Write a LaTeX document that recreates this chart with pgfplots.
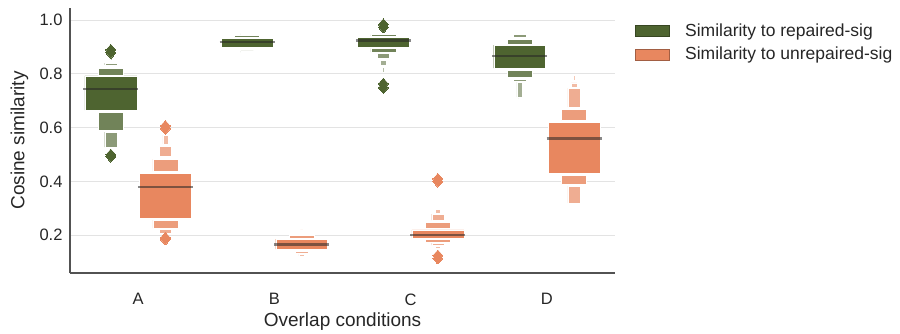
\documentclass[border=0pt]{standalone}
\usepackage{pgfplots}
\pgfplotsset{compat=1.18}
\usepackage{fontspec}
\setmainfont{Liberation Sans}
\definecolor{gC}{RGB}{78,100,48}
\definecolor{oC}{RGB}{232,135,95}
\colorlet{g1}{gC}\colorlet{g2}{gC!80!white}\colorlet{g3}{gC!65!white}\colorlet{g4}{gC!52!white}\colorlet{g5}{gC!42!white}
\colorlet{o1}{oC}\colorlet{o2}{oC!82!white}\colorlet{o3}{oC!68!white}\colorlet{o4}{oC!56!white}\colorlet{o5}{oC!45!white}
% box: center, half width, low, high, colour
\newcommand\bx[5]{%
  \pgfmathsetmacro\xa{#1-#2}\pgfmathsetmacro\xb{#1+#2}%
  \edef\tmp{\noexpand\addplot[fill=#5,draw=white,line width=0.4pt,forget plot] coordinates {(\xa,#3) (\xb,#3) (\xb,#4) (\xa,#4) (\xa,#3)};}\tmp}
% median: center, value
\newcommand\md[2]{%
  \pgfmathsetmacro\xa{#1-0.202}\pgfmathsetmacro\xb{#1+0.202}%
  \edef\tmp{\noexpand\addplot[draw=black!85,opacity=0.55,line width=2.6pt,forget plot] coordinates {(\xa,#2) (\xb,#2)};}\tmp}
\begin{document}
\begin{tikzpicture}
\useasboundingbox (0,0) rectangle (900pt,333pt);
\begin{axis}[
  at={(70pt,60pt)}, anchor=south west,
  width=545pt, height=265pt, scale only axis,
  xmin=-0.5, xmax=3.5, ymin=0.059, ymax=1.045,
  xtick={0,1,2,3}, xticklabels={A,B,C,D},
  ytick={0.2,0.4,0.6,0.8,1.0},
  yticklabel style={xshift=-4pt, /pgf/number format/.cd,fixed,fixed zerofill,precision=1,assume math mode=true},
  xticklabel style={yshift=-17pt},
  ticklabel style={font=\fontsize{16.5}{18}\selectfont, text=black!85},
  major tick length=0pt,
  axis x line*=bottom, axis y line*=left,
  x axis line style={-}, y axis line style={-},
  axis line style={draw=black!68, line width=2pt},
  ymajorgrids, grid style={draw=black!11, line width=0.8pt},
  xlabel={Overlap conditions}, ylabel={Cosine similarity},
  label style={font=\fontsize{19}{22}\selectfont, text=black!85},
  xlabel style={at={(axis description cs:0.5,-0.185)}, anchor=center},
  ylabel style={at={(axis description cs:-0.0927,0.5)}, anchor=center},
  legend style={at={(1.03,0.955)}, anchor=north west, draw=none, fill=none,
    font=\fontsize{17.5}{20}\selectfont, row sep=5pt, column sep=14pt, text=black!85},
  legend cell align=left,
  legend image code/.code={\draw[#1] (0pt,-5.5pt) rectangle (34pt,5.5pt);},
]
\addlegendimage{fill=gC, draw=gC!70!black, line width=0.6pt}
\addlegendentry{Similarity to repaired-sig}
\addlegendimage{fill=oC, draw=oC!70!black, line width=0.6pt}
\addlegendentry{Similarity to unrepaired-sig}
% A green
\bx{-0.2}{0.19}{0.665}{0.792}{g1}
\bx{-0.2}{0.092}{0.795}{0.82}{g2}
\bx{-0.2}{0.092}{0.59}{0.658}{g2}
\bx{-0.2}{0.045}{0.833}{0.84}{g3}
\bx{-0.2}{0.045}{0.527}{0.583}{g3}
\bx{-0.2}{0.008}{0.513}{0.519}{g5}
\bx{-0.2}{0.008}{0.852}{0.858}{g5}
\md{-0.2}{0.743}
% A orange
\bx{0.2}{0.19}{0.263}{0.43}{o1}
\bx{0.2}{0.092}{0.438}{0.483}{o2}
\bx{0.2}{0.092}{0.226}{0.256}{o2}
\bx{0.2}{0.045}{0.494}{0.531}{o3}
\bx{0.2}{0.045}{0.207}{0.222}{o3}
\bx{0.2}{0.018}{0.539}{0.572}{o4}
\bx{0.2}{0.006}{0.578}{0.585}{o5}
\md{0.2}{0.379}
% B green
\bx{0.8}{0.19}{0.90}{0.933}{g1}
\bx{0.8}{0.092}{0.937}{0.943}{g2}
\bx{0.8}{0.092}{0.89}{0.896}{g2}
\bx{0.8}{0.045}{0.946}{0.95}{g3}
\bx{0.8}{0.045}{0.88}{0.885}{g3}
\bx{0.8}{0.02}{0.873}{0.877}{g4}
\md{0.8}{0.919}
% B orange
\bx{1.2}{0.19}{0.148}{0.185}{o1}
\bx{1.2}{0.092}{0.19}{0.198}{o2}
\bx{1.2}{0.045}{0.133}{0.14}{o3}
\bx{1.2}{0.02}{0.122}{0.129}{o4}
\bx{1.2}{0.01}{0.215}{0.219}{o5}
\md{1.2}{0.165}
% C green
\bx{1.8}{0.19}{0.90}{0.937}{g1}
\bx{1.8}{0.092}{0.941}{0.946}{g2}
\bx{1.8}{0.092}{0.881}{0.895}{g2}
\bx{1.8}{0.045}{0.859}{0.877}{g3}
\bx{1.8}{0.02}{0.833}{0.851}{g4}
\bx{1.8}{0.006}{0.807}{0.825}{g5}
\bx{1.8}{0.006}{0.95}{0.954}{g5}
\md{1.8}{0.923}
% C orange
\bx{2.2}{0.19}{0.189}{0.219}{o1}
\bx{2.2}{0.092}{0.226}{0.248}{o2}
\bx{2.2}{0.092}{0.174}{0.185}{o2}
\bx{2.2}{0.045}{0.256}{0.278}{o3}
\bx{2.2}{0.045}{0.163}{0.17}{o3}
\bx{2.2}{0.02}{0.282}{0.297}{o4}
\bx{2.2}{0.02}{0.152}{0.158}{o4}
\bx{2.2}{0.006}{0.30}{0.31}{o5}
\md{2.2}{0.2}
% D green
\bx{2.8}{0.19}{0.821}{0.907}{g1}
\bx{2.8}{0.092}{0.911}{0.929}{g2}
\bx{2.8}{0.092}{0.788}{0.814}{g2}
\bx{2.8}{0.045}{0.937}{0.948}{g3}
\bx{2.8}{0.045}{0.773}{0.78}{g3}
\bx{2.8}{0.02}{0.713}{0.769}{g4}
\bx{2.8}{0.006}{0.706}{0.71}{g5}
\md{2.8}{0.866}
% D orange
\bx{3.2}{0.19}{0.431}{0.62}{o1}
\bx{3.2}{0.092}{0.628}{0.669}{o2}
\bx{3.2}{0.092}{0.39}{0.423}{o2}
\bx{3.2}{0.045}{0.676}{0.747}{o3}
\bx{3.2}{0.045}{0.319}{0.382}{o3}
\bx{3.2}{0.02}{0.75}{0.766}{o4}
\bx{3.2}{0.006}{0.777}{0.795}{o5}
\md{3.2}{0.56}
% outliers
\addplot[only marks, mark=diamond*, mark size=5.5pt, mark options={xscale=1.2, fill=gC, draw=gC, line width=0pt}, forget plot]
  coordinates {(-0.2,0.889) (-0.2,0.878) (-0.2,0.499) (-0.2,0.492) (1.8,0.984) (1.8,0.973) (1.8,0.763) (1.8,0.748)};
\addplot[only marks, mark=diamond*, mark size=5.5pt, mark options={xscale=1.2, fill=oC, draw=oC, line width=0pt}, forget plot]
  coordinates {(0.2,0.606) (0.2,0.596) (0.2,0.190) (0.2,0.184) (2.2,0.409) (2.2,0.399) (2.2,0.124) (2.2,0.113)};
\end{axis}
\end{tikzpicture}
\end{document}
